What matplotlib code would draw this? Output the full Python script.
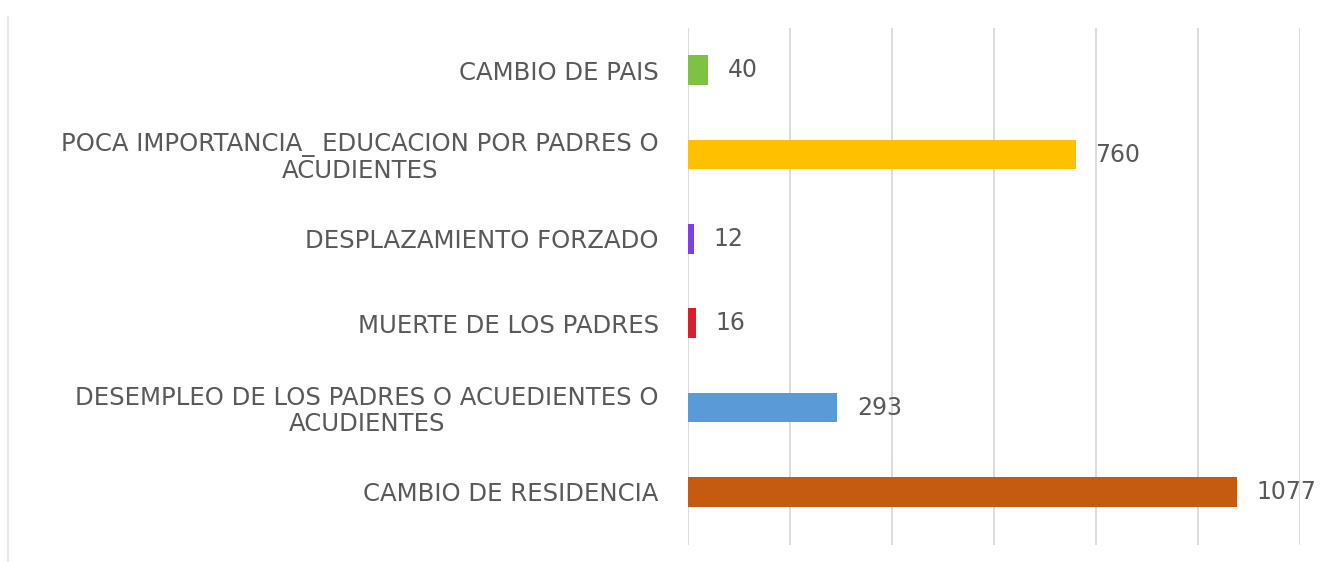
import matplotlib
matplotlib.use("Agg")
import matplotlib.pyplot as plt
from matplotlib.lines import Line2D

categories = [
    "CAMBIO DE RESIDENCIA",
    "DESEMPLEO DE LOS PADRES O ACUEDIENTES O\nACUDIENTES",
    "MUERTE DE LOS PADRES",
    "DESPLAZAMIENTO FORZADO",
    "POCA IMPORTANCIA_ EDUCACION POR PADRES O\nACUDIENTES",
    "CAMBIO DE PAIS",
]
values = [1077, 293, 16, 12, 760, 40]
colors = ["#C55A11", "#5B9BD5", "#D9202A", "#7F3FE8", "#FFC000", "#7DC242"]
x_ticks = [0, 200, 400, 600, 800, 1000, 1200]

plt.rcParams['font.family'] = ['DejaVu Sans']

fig = plt.figure(figsize=(13.27, 5.62), dpi=100)
ax = fig.add_axes([688/1327, 1 - 545/562, (1300-688)/1327, (545-28)/562])

ypos = list(range(len(categories)))
ax.barh(ypos, values, height=0.35, color=colors, zorder=3)

for y, v in zip(ypos, values):
    ax.annotate(str(v), xy=(v, y), xytext=(14, 0), textcoords="offset points",
                ha="left", va="center", fontsize=17, color="#595959")

ax.set_xlim(0, 1200)
ax.set_ylim(-0.63, 5.5)
ax.set_xticks(x_ticks)
ax.set_xticklabels([])
ax.set_yticks(ypos)
ax.set_yticklabels(categories, fontsize=17.6, color="#595959", linespacing=1.12)
for lbl in ax.get_yticklabels():
    lbl.set_multialignment("center")
ax.tick_params(axis="both", length=0)
ax.tick_params(axis="y", pad=21)
ax.grid(axis="x", color="#D9D9D9", linewidth=1.3, zorder=0)
for s in ax.spines.values():
    s.set_visible(False)

# faint outer frame on the left
fig.add_artist(Line2D([8/1327, 8/1327], [0, 1 - 17/562], transform=fig.transFigure,
                      color="#E6E6E6", linewidth=1.2))

fig.savefig("out.png", dpi=100, facecolor="white")
